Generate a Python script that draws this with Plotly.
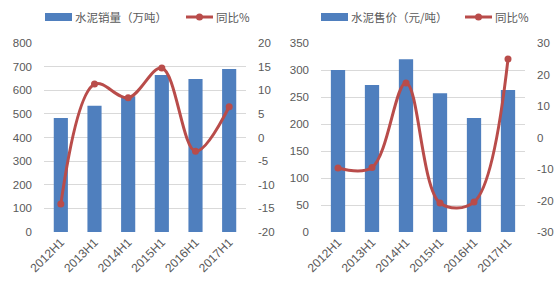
import plotly.graph_objects as go

categories = ["2012H1", "2013H1", "2014H1", "2015H1", "2016H1", "2017H1"]
volume = [483, 534, 575, 665, 648, 690]
volume_yoy = [-14.1, 11.3, 8.4, 14.7, -2.9, 6.5]
price = [300, 272, 320, 257, 211, 263]
price_yoy = [-9.7, -9.5, 17.3, -20.8, -20.5, 24.9]

vol_ticks = [0, 100, 200, 300, 400, 500, 600, 700, 800]
vol_yoy_ticks = [-20, -15, -10, -5, 0, 5, 10, 15, 20]
price_ticks = [0, 50, 100, 150, 200, 250, 300, 350]
price_yoy_ticks = [-30, -20, -10, 0, 10, 20, 30]

BLUE = "#4f7fbe"
RED = "#b94c4a"
TICK = "#595959"
GRID = "#d9d9d9"
FONT = "Liberation Sans, Arial, Noto Sans CJK SC"
W, H = 557, 285

fig = go.Figure()
fig.add_trace(go.Bar(x=categories, y=volume, marker_color=BLUE, xaxis="x", yaxis="y", showlegend=False))
fig.add_trace(go.Scatter(x=categories, y=volume_yoy, mode="lines+markers", line=dict(color=RED, width=3, shape="spline", smoothing=1),
                         marker=dict(color=RED, size=7), xaxis="x", yaxis="y2", showlegend=False))
fig.add_trace(go.Bar(x=categories, y=price, marker_color=BLUE, xaxis="x2", yaxis="y3", showlegend=False))
fig.add_trace(go.Scatter(x=categories, y=price_yoy, mode="lines+markers", line=dict(color=RED, width=3, shape="spline", smoothing=1),
                         marker=dict(color=RED, size=7), xaxis="x2", yaxis="y4", showlegend=False))

ybot = 1 - 232 / H
ytop = 1 - 43 / H
d1 = [44 / W, 246 / W]
d2 = [321 / W, 525 / W]

def lab(vals):
    return [str(v) for v in vals]

tickfont = dict(family=FONT, size=11.5, color=TICK)
xtickfont = dict(family=FONT, size=12, color=TICK)
xcommon = dict(tickangle=-45, tickfont=xtickfont, showgrid=False, showline=False, ticks="", zeroline=False,
               fixedrange=True, automargin=False)
ycommon = dict(zeroline=False, tickfont=tickfont, ticklabelstandoff=11, automargin=False, ticks="", showline=False)
fig.update_layout(
    template="none",
    width=W, height=H, margin=dict(l=0, r=0, t=0, b=0),
    paper_bgcolor="white", plot_bgcolor="white",
    bargap=0.58, font=dict(family=FONT),
    xaxis=dict(domain=d1, anchor="y", **xcommon),
    xaxis2=dict(domain=d2, anchor="y3", **xcommon),
    yaxis=dict(domain=[ybot, ytop], range=[0, 800], tickvals=vol_ticks, ticktext=lab(vol_ticks),
               showgrid=True, gridcolor=GRID, gridwidth=1, anchor="x", **ycommon),
    yaxis2=dict(overlaying="y", side="right", range=[-20, 20], tickvals=vol_yoy_ticks, ticktext=lab(vol_yoy_ticks),
                showgrid=False, anchor="x", **ycommon),
    yaxis3=dict(domain=[ybot, ytop], range=[0, 350], tickvals=price_ticks, ticktext=lab(price_ticks),
                showgrid=True, gridcolor=GRID, gridwidth=1, anchor="x2", **ycommon),
    yaxis4=dict(overlaying="y3", side="right", range=[-30, 30], tickvals=price_yoy_ticks, ticktext=lab(price_yoy_ticks),
                showgrid=False, anchor="x2", **ycommon),
)

# manual legends
legend_font = dict(family="Noto Sans CJK SC, Liberation Sans", size=11.5, color=TICK)
def legend(x0, bar_label, x1, line_label):
    yc = 17
    fig.add_shape(type="rect", xref="paper", yref="paper", x0=x0 / W, x1=(x0 + 27) / W,
                  y0=1 - (yc + 4) / H, y1=1 - (yc - 4) / H, fillcolor=BLUE, line_width=0)
    fig.add_annotation(xref="paper", yref="paper", x=(x0 + 28) / W, y=1 - yc / H, text=bar_label,
                       showarrow=False, xanchor="left", yanchor="middle", font=legend_font)
    fig.add_shape(type="line", xref="paper", yref="paper", x0=x1 / W, x1=(x1 + 27) / W,
                  y0=1 - yc / H, y1=1 - yc / H, line=dict(color=RED, width=3))
    fig.add_shape(type="circle", xref="paper", yref="paper", x0=(x1 + 10) / W, x1=(x1 + 17) / W,
                  y0=1 - (yc + 3.5) / H, y1=1 - (yc - 3.5) / H, fillcolor=RED, line_width=0)
    fig.add_annotation(xref="paper", yref="paper", x=(x1 + 28) / W, y=1 - yc / H, text=line_label,
                       showarrow=False, xanchor="left", yanchor="middle", font=legend_font)

legend(45, "水泥销量（万吨）", 186, "同比%")
legend(321, "水泥售价（元/吨）", 465, "同比%")

fig.write_html("out.html")
